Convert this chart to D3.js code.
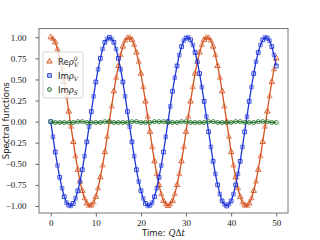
<!DOCTYPE html>
<html lang="en">
<head>
    <meta charset="UTF-8">
    <title>Spectral functions</title>
    <script src="https://d3js.org/d3.v7.min.js"></script>
    <style>
        body {
            margin: 0;
            padding: 0;
            background-color: #fff;
        }
        .tick text {
            font-family: "Liberation Serif", serif;
            font-size: 9px;
            fill: #222;
        }
        .tick line, .domain {
            stroke: #666;
        }
        .axis-label {
            font-family: "DejaVu Sans", sans-serif;
            font-size: 8.5px;
            fill: #222;
        }
        .legend-text {
            font-family: "DejaVu Sans", sans-serif;
            font-size: 8.5px;
            fill: #222;
        }
    </style>
</head>
<body>
    <svg width="320" height="240"></svg>
    <script>
        // time grid: 0 to 50, step 0.5
        const times = d3.range(0, 50.001, 0.5);
        const timesS = d3.range(0, 50.001, 1);

        const reRhoV0 = [1.00, 0.98, 0.94, 0.86, 0.75, 0.62, 0.47, 0.30, 0.12, -0.06,
            -0.24, -0.41, -0.57, -0.71, -0.82, -0.91, -0.97, -1.00, -0.99, -0.96,
            -0.89, -0.79, -0.66, -0.52, -0.36, -0.18, 0.00, 0.18, 0.36, 0.52,
            0.66, 0.79, 0.89, 0.96, 0.99, 1.00, 0.97, 0.91, 0.82, 0.71,
            0.57, 0.41, 0.24, 0.06, -0.12, -0.30, -0.47, -0.62, -0.75, -0.86,
            -0.94, -0.98, -1.00, -0.98, -0.94, -0.86, -0.75, -0.62, -0.47, -0.30,
            -0.12, 0.06, 0.24, 0.41, 0.57, 0.71, 0.82, 0.91, 0.97, 1.00,
            0.99, 0.96, 0.89, 0.79, 0.66, 0.52, 0.36, 0.18, 0.00, -0.18,
            -0.36, -0.52, -0.66, -0.79, -0.89, -0.96, -0.99, -1.00, -0.97, -0.91,
            -0.82, -0.71, -0.57, -0.41, -0.24, -0.06, 0.12, 0.30, 0.47, 0.62,
            0.75];

        const imRhoV = [0.00, -0.18, -0.36, -0.52, -0.66, -0.79, -0.89, -0.96, -0.99, -1.00,
            -0.97, -0.91, -0.82, -0.71, -0.57, -0.41, -0.24, -0.06, 0.12, 0.30,
            0.47, 0.62, 0.75, 0.86, 0.94, 0.98, 1.00, 0.98, 0.94, 0.86,
            0.75, 0.62, 0.47, 0.30, 0.12, -0.06, -0.24, -0.41, -0.57, -0.71,
            -0.82, -0.91, -0.97, -1.00, -0.99, -0.96, -0.89, -0.79, -0.66, -0.52,
            -0.36, -0.18, 0.00, 0.18, 0.36, 0.52, 0.66, 0.79, 0.89, 0.96,
            0.99, 1.00, 0.97, 0.91, 0.82, 0.71, 0.57, 0.41, 0.24, 0.06,
            -0.12, -0.30, -0.47, -0.62, -0.75, -0.86, -0.94, -0.98, -1.00, -0.98,
            -0.94, -0.86, -0.75, -0.62, -0.47, -0.30, -0.12, 0.06, 0.24, 0.41,
            0.57, 0.71, 0.82, 0.91, 0.97, 1.00, 0.99, 0.96, 0.89, 0.79,
            0.66];

        const imRhoS = [0.00, -0.01, -0.01, -0.01, -0.01, -0.01, 0.00, 0.00, -0.01, -0.01,
            -0.01, -0.01, 0.00, 0.00, -0.01, -0.01, -0.01, -0.01, 0.00, 0.00,
            -0.01, -0.01, -0.01, 0.00, 0.00, 0.00, -0.01, -0.01, -0.01, 0.00,
            0.00, -0.01, -0.01, -0.01, -0.01, 0.00, 0.00, -0.01, -0.01, -0.01,
            -0.01, 0.00, 0.00, -0.01, -0.01, -0.01, 0.00, 0.00, 0.00, -0.01,
            -0.01];

        const xTicks = [0, 10, 20, 30, 40, 50];
        const yTicks = [-1.00, -0.75, -0.50, -0.25, 0.00, 0.25, 0.50, 0.75, 1.00];

        const series = [
            { name: "re", values: reRhoV0, t: times, color: "#d4531f", symbol: d3.symbolTriangle, size: 13 },
            { name: "imV", values: imRhoV, t: times, color: "#1f36d6", symbol: d3.symbolSquare, size: 14 },
            { name: "imS", values: imRhoS, t: timesS, color: "#2f7a35", symbol: d3.symbolCircle, size: 13 }
        ];

        const svg = d3.select("svg");
        const plotLeft = 39, plotRight = 288, plotTop = 28.5, plotBottom = 213;

        const x = d3.scaleLinear().domain([-2.6, 52.6]).range([plotLeft, plotRight]);
        const y = d3.scaleLinear().domain([-1.083, 1.104]).range([plotBottom, plotTop]);

        // axes
        svg.append("g")
            .attr("transform", `translate(0,${plotBottom})`)
            .call(d3.axisBottom(x).tickValues(xTicks).tickSize(3.5).tickPadding(3).tickFormat(d3.format("d")))
            .call(g => g.select(".domain").remove());

        svg.append("g")
            .attr("transform", `translate(${plotLeft},0)`)
            .call(d3.axisLeft(y).tickValues(yTicks).tickSize(3.5).tickPadding(9).tickFormat(d3.format(".2f")))
            .call(g => g.select(".domain").remove());

        const line = d3.line()
            .x(d => x(d[0]))
            .y(d => y(d[1]));

        series.forEach(s => {
            const pts = s.values.map((v, i) => [s.t[i], v]);
            const g = svg.append("g");
            g.append("path")
                .datum(pts)
                .attr("fill", "none")
                .attr("stroke", s.color)
                .attr("stroke-width", 1.3)
                .attr("d", line);
            g.selectAll("path.mk")
                .data(pts)
                .enter().append("path")
                .attr("class", "mk")
                .attr("transform", d => `translate(${x(d[0])},${y(d[1])})`)
                .attr("d", d3.symbol().type(s.symbol).size(s.size))
                .attr("fill", (d, i) => (s.name !== "imS" && i % 2 === 1) ? s.color : "none")
                .attr("fill-opacity", 0.3)
                .attr("stroke", s.color)
                .attr("stroke-opacity", (d, i) => (s.name !== "imS" && i % 2 === 1) ? 0.5 : 1)
                .attr("stroke-width", 0.9);
        });

        // frame
        svg.append("rect")
            .attr("x", plotLeft)
            .attr("y", plotTop)
            .attr("width", plotRight - plotLeft)
            .attr("height", plotBottom - plotTop)
            .attr("fill", "none")
            .attr("stroke", "#777")
            .attr("stroke-width", 1);

        // legend
        const legend = svg.append("g").attr("transform", "translate(43,52)");
        legend.append("rect")
            .attr("width", 40)
            .attr("height", 46)
            .attr("rx", 2)
            .attr("fill", "#fff")
            .attr("fill-opacity", 0.8)
            .attr("stroke", "#ccc")
            .attr("stroke-width", 0.8);

        const legendRows = [
            { s: series[0], sub: "V", sup: "0", dy: 9.5 },
            { s: series[1], sub: "V", sup: null, dy: 23.5 },
            { s: series[2], sub: "S", sup: null, dy: 37.5 }
        ];

        legendRows.forEach(r => {
            legend.append("path")
                .attr("transform", `translate(6.5,${r.dy})`)
                .attr("d", d3.symbol().type(r.s.symbol).size(r.s.size))
                .attr("fill", r.s.color)
                .attr("fill-opacity", 0.3)
                .attr("stroke", r.s.color)
                .attr("stroke-width", 0.9);

            const t = legend.append("text")
                .attr("class", "legend-text")
                .attr("x", 15)
                .attr("y", r.dy + 3);
            t.append("tspan").text(r.s.name === "re" ? "Re" : "Im");
            t.append("tspan")
                .style("font-family", "'DejaVu Serif', serif")
                .style("font-style", "italic")
                .text("ρ");
            if (r.sup) {
                t.append("tspan")
                    .attr("dy", -3.5)
                    .style("font-size", "6px")
                    .style("font-family", "'DejaVu Serif', serif")
                    .text(r.sup);
                t.append("tspan")
                    .attr("dx", -3.6)
                    .attr("dy", 6)
                    .style("font-size", "6px")
                    .style("font-family", "'DejaVu Serif', serif")
                    .style("font-style", "italic")
                    .text(r.sub);
            } else {
                t.append("tspan")
                    .attr("dy", 2.5)
                    .style("font-size", "6px")
                    .style("font-family", "'DejaVu Serif', serif")
                    .style("font-style", "italic")
                    .text(r.sub);
            }
        });

        // axis labels
        svg.append("text")
            .attr("class", "axis-label")
            .attr("transform", `translate(9,${(plotTop + plotBottom) / 2}) rotate(-90)`)
            .attr("text-anchor", "middle")
            .text("Spectral functions");

        const xl = svg.append("text")
            .attr("class", "axis-label")
            .attr("x", (plotLeft + plotRight) / 2)
            .attr("y", 236)
            .attr("text-anchor", "middle");
        xl.append("tspan").text("Time: ");
        xl.append("tspan")
            .style("font-family", "'DejaVu Serif', serif")
            .style("font-style", "italic")
            .text("Q");
        xl.append("tspan")
            .style("font-family", "'DejaVu Serif', serif")
            .text("Δ");
        xl.append("tspan")
            .style("font-family", "'DejaVu Serif', serif")
            .style("font-style", "italic")
            .text("t");
    </script>
</body>
</html>
